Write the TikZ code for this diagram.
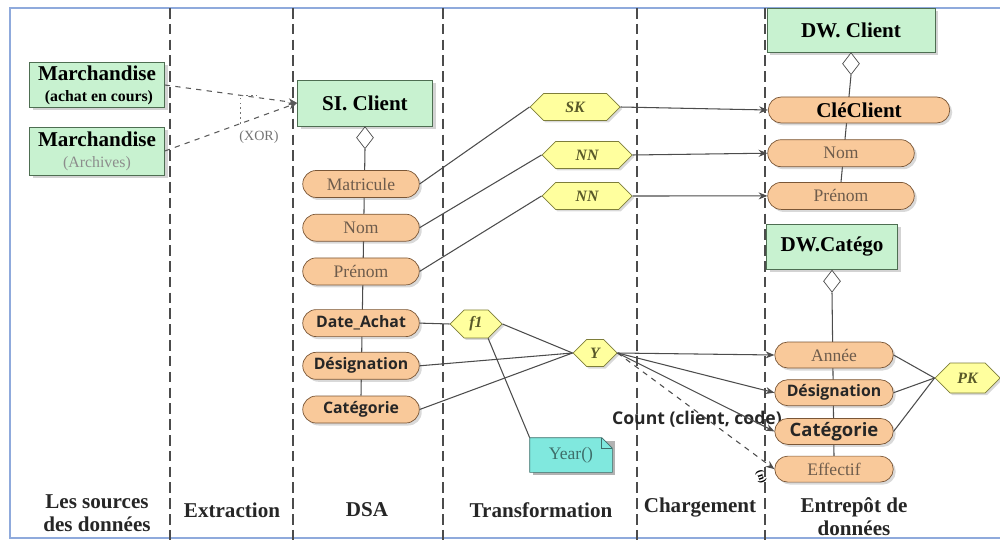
\documentclass[tikz,border=0pt]{standalone}
\usepackage{fontspec}
\setmainfont{Liberation Serif}
\newfontfamily\attrsans{Open Sans}
\usetikzlibrary{arrows.meta, positioning, backgrounds, shapes.geometric, shapes.misc, shapes.symbols, shadows}
\definecolor{entitygreen}{HTML}{C8F2D0}
\definecolor{entityborder}{HTML}{4E6E52}
\definecolor{attrorange}{HTML}{F9C99A}
\definecolor{attrborder}{HTML}{7A5636}
\definecolor{attrtext}{HTML}{6E5C4C}
\definecolor{hexyellow}{HTML}{FFFF9E}
\definecolor{hexborder}{HTML}{7E7E3A}
\definecolor{notecyan}{HTML}{80E8DE}
\definecolor{noteborder}{HTML}{3E6E6A}
\definecolor{frameblue}{HTML}{8FAADC}

\begin{document}
\begin{tikzpicture}[
  entity/.style={draw=entityborder, fill=entitygreen, minimum width=2.7cm, minimum height=0.9cm, inner sep=1pt, font=\fontsize{12}{13}\selectfont\bfseries, align=center, drop shadow={shadow xshift=0.6mm, shadow yshift=-0.6mm, opacity=0.35}},
  attr/.style={rounded rectangle, draw=attrborder, fill=attrorange, minimum width=2.4cm, minimum height=0.54cm, inner sep=1pt, drop shadow={shadow xshift=0.5mm, shadow yshift=-0.5mm, opacity=0.3}},
  plainattr/.style={attr, text=attrtext, font=\fontsize{10}{12}\selectfont},
  keyattr/.style={attr, text=black!85, font=\attrsans\fontsize{9}{11}\selectfont\bfseries},
  hexa/.style={signal, signal to=west and east, draw=hexborder, fill=hexyellow, minimum width=1.8cm, minimum height=0.54cm, inner sep=1pt, font=\fontsize{9}{11}\selectfont\bfseries\itshape, text=hexborder!70!black, drop shadow={shadow xshift=0.4mm, shadow yshift=-0.4mm, opacity=0.3}},
  agg/.style={diamond, draw=black!70, fill=white, minimum width=0.34cm, minimum height=0.44cm, inner sep=0pt},
  link/.style={draw=black!70, line width=0.6pt},
  arrow/.style={link, -{Stealth[length=5pt, width=4pt]}},
  lane/.style={draw=black!70, line width=1.1pt, dash pattern=on 6pt off 3pt},
  phase/.style={font=\fontsize{12}{13}\selectfont\bfseries, align=center, text=black!85},
]
\useasboundingbox (0,0) rectangle (20,-10.8);

% Sources
\node[entity, minimum height=0.9cm] (srccours) at (1.94,-1.70) {Marchandise\\[-1pt]{\fontsize{9}{10}\selectfont\ (achat en cours)}};
\node[entity, minimum height=0.96cm] (srcarch) at (1.94,-3.02) {Marchandise\\[-1pt]{\fontsize{9}{10}\selectfont\mdseries\color{black!45}(Archives)}};

% DSA
\node[entity, minimum height=0.92cm] (siclient) at (7.30,-2.06) {SI. Client};
\node[agg, below=0pt of siclient] (siagg) {};
\node[plainattr] (matricule) at (7.22,-3.68) {Matricule};
\node[plainattr, below=0.32cm of matricule] (dsanom) {Nom};
\node[plainattr, below=0.32cm of dsanom] (dsaprenom) {Prénom};
\node[keyattr, below=0.48cm of dsaprenom] (dateachat) {Date\_Achat};
\node[keyattr, below=0.3cm of dateachat] (dsadesig) {Désignation};
\node[keyattr, below=0.32cm of dsadesig] (dsacat) {Catégorie};

% Transformation
\node[hexa] (sk) at (11.50,-2.14) {SK};
\node[hexa] (nnnom) at (11.74,-3.10) {NN};
\node[hexa] (nnprenom) at (11.74,-3.92) {NN};
\node[hexa, minimum width=1.04cm, minimum height=0.56cm] (fone) at (9.52,-6.48) {f1};
\node[hexa, minimum width=0.88cm] (ygroup) at (11.90,-7.06) {Y};
\node[minimum width=1.64cm, minimum height=0.68cm, font=\fontsize{10}{12}\selectfont, text=noteborder] (year) at (11.42,-9.10) {Year()};
\node[font=\attrsans\fontsize{10}{12}\selectfont\bfseries, text=black!85] (count) at (13.94,-8.38) {Count (client, code)};

% Entrepot
\node[entity, minimum width=3.36cm, minimum height=0.88cm] (dwclient) at (17.02,-0.60) {DW. Client};
\node[agg, below=0pt of dwclient] (dwagg) {};
\node[attr, minimum width=3.7cm, minimum height=0.52cm, font=\fontsize{12}{13}\selectfont\bfseries] (cle) at (17.18,-2.20) {CléClient};
\node[plainattr, minimum width=3.0cm, below=0.32cm of cle.south west, anchor=north west] (dwnom) {Nom};
\node[plainattr, minimum width=3.0cm, below=0.30cm of dwnom] (dwprenom) {Prénom};

\node[entity, minimum width=2.62cm, minimum height=0.9cm] (dwcatego) at (16.64,-4.94) {DW.Catégo};
\node[agg, below=0pt of dwcatego] (catagg) {};
\node[plainattr, minimum width=2.44cm, minimum height=0.52cm] (annee) at (16.68,-7.10) {Année};
\node[keyattr, minimum width=2.44cm, minimum height=0.52cm, below=0.22cm of annee] (dwdesig) {Désignation};
\node[keyattr, minimum width=2.44cm, minimum height=0.52cm, below=0.24cm of dwdesig, font=\attrsans\fontsize{10.5}{12}\selectfont\bfseries] (dwcat) {Catégorie};
\node[plainattr, minimum width=2.44cm, minimum height=0.52cm, below=0.22cm of dwcat] (effectif) {Effectif};
\node[hexa, minimum width=1.3cm, minimum height=0.6cm] (pk) at (19.35,-7.56) {PK};
\node[rotate=-70, font=\fontsize{6}{7}\selectfont\bfseries, inner sep=1pt] (card) at (15.22,-9.54) {(n)};

% Phases
\node[phase] (phsources) at (1.94,-10.26) {Les sources\\des données};
\node[phase] (phextract) at (4.64,-10.20) {Extraction};
\node[phase] (phdsa) at (7.34,-10.20) {DSA};
\node[phase] (phtransf) at (10.82,-10.20) {Transformation};
\node[phase] (phcharg) at (14.00,-10.16) {Chargement};
\node[phase] (phentrep) at (17.08,-10.34) {Entrepôt de\\données};

% Lanes, frame, stems
\begin{scope}[on background layer]
\draw[frameblue, line width=0.8pt] (20,-0.16) -- (0.2,-0.16) -- (0.2,-10.76) -- (20,-10.76);
\foreach \lx in {3.40, 5.86, 8.86, 12.74, 15.30}
  \draw[lane] (\lx,-0.16) -- (\lx,-10.8);
\draw[link] (siagg.south) -- (dsacat.north);
\draw[link] (dwagg.south) -- (dwprenom.north);
\draw[link] (catagg.south) -- (effectif.north);
\fill[black!30] ([shift={(0.6mm,-0.6mm)}]year.south west) rectangle ([shift={(0.6mm,-0.6mm)}]year.north east);
\draw[noteborder, fill=notecyan] (year.south west) -- (year.north west) -- ([xshift=-6pt]year.north east) -- ([yshift=-6pt]year.north east) -- (year.south east) -- cycle;
\draw[noteborder] ([xshift=-6pt]year.north east) |- ([yshift=-6pt]year.north east);
\end{scope}

% Extraction
\draw[arrow, dashed, black!65] (srccours.east) -- coordinate[pos=0.57] (xortop) (siclient.west);
\draw[arrow, dashed, black!65] (srcarch.east) -- coordinate[pos=0.57] (xorbot) (siclient.west);
\draw[black!55, dotted, line width=0.8pt] (xorbot) -- (xortop) -- ++(0.32,0);
\node[font=\fontsize{8}{9}\selectfont, text=black!55] (xor) at (5.18,-2.74) {(XOR)};

% Transformations
\draw[link] (matricule.east) -- (sk.west);
\draw[link] (dsanom.east) -- (nnnom.west);
\draw[link] (dsaprenom.east) -- (nnprenom.west);
\draw[link] (dateachat.east) -- (fone.west);
\draw[link] (fone.east) -- (ygroup.west);
\draw[link] (fone.south east) -- (year.north west);
\draw[link] (dsadesig.east) -- (ygroup.west);
\draw[link] (dsacat.east) -- (ygroup.west);

% Chargement
\draw[arrow] (sk.east) -- (cle.west);
\draw[arrow] (nnnom.east) -- (dwnom.west);
\draw[arrow] (nnprenom.east) -- (dwprenom.west);
\draw[arrow] (ygroup.east) -- (annee.west);
\draw[arrow] (ygroup.east) -- (dwdesig.west);
\draw[arrow] (ygroup.east) -- (dwcat.west);
\draw[arrow, dashed] (ygroup.east) -- (effectif.west);

% Cle primaire
\draw[link] (annee.east) -- (pk.west);
\draw[link] (dwdesig.east) -- (pk.west);
\draw[link] (dwcat.east) -- (pk.west);

\end{tikzpicture}
\end{document}
